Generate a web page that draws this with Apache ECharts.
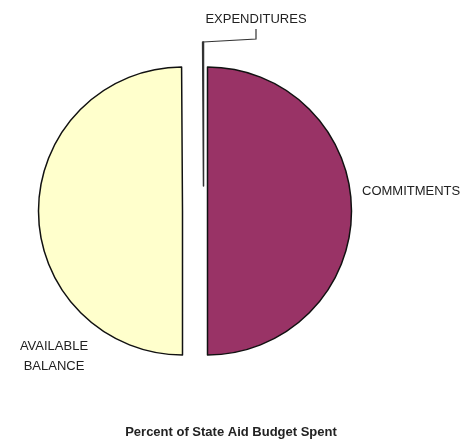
<!DOCTYPE html>
<html>
<head>
<meta charset="utf-8">
<script src="https://cdn.jsdelivr.net/npm/echarts@6/dist/echarts.min.js"></script>
<style>
  html, body { margin: 0; padding: 0; background: #fff; }
  #chart { width: 462px; height: 446px; }
</style>
</head>
<body>
<div id="chart"></div>
<script>
// Budget shares (percent of state aid budget)
const categories = ['COMMITMENTS', 'AVAILABLE\nBALANCE', 'EXPENDITURES'];
const shares = [50.0, 49.9, 0.1];
const sliceColors = ['#993366', '#FFFFCC', '#3a3a3a'];

// Exploded pie: each slice is drawn by its own series, pulled out from the
// common centre along its middle direction.
const pieCentre = [203.5, 211];
const pieRadius = 144;
const pullOut = [[4, 0], [-21, 0], [0, -25]];
const labelSpots = [
  { x: 362, y: 191, align: 'left' },
  { x: 54, y: 356, align: 'center' },
  { x: 256, y: 19, align: 'center' }
];

const FONT = '"Liberation Sans", Arial, Helvetica, sans-serif';

function sliceSeries(k) {
  return {
    type: 'pie',
    silent: true,
    center: [pieCentre[0] + pullOut[k][0], pieCentre[1] + pullOut[k][1]],
    radius: [0, pieRadius],
    startAngle: 90,
    clockwise: true,
    avoidLabelOverlap: false,
    emphasis: { disabled: true },
    label: {
      show: false,
      position: 'outside',
      fontFamily: FONT,
      fontSize: 13,
      lineHeight: 20,
      color: '#222'
    },
    labelLine: { show: false },
    labelLayout: function (p) {
      const s = labelSpots[p.dataIndex];
      return { x: s.x, y: s.y, align: s.align, verticalAlign: 'middle' };
    },
    data: categories.map((name, i) => {
      const own = i === k;
      const tiny = i === 2;
      return {
        name: name,
        value: shares[i],
        itemStyle: own
          ? { color: sliceColors[i], borderColor: tiny ? '#333' : '#111', borderWidth: 1.5 }
          : { opacity: 0 },
        // the small slice's caption sits above the pie with a bent leader
        label: own
          ? (tiny ? { show: true, lineHeight: 14, padding: [0, 70, 6, 70] } : { show: true })
          : { show: false },
        labelLine: own && tiny
          ? { show: true, length: 4, length2: 10, minTurnAngle: 60, lineStyle: { color: '#333', width: 1.2 } }
          : { show: false }
      };
    })
  };
}

const chart = echarts.init(document.getElementById('chart'), null, { renderer: 'canvas' });

chart.setOption({
  animation: false,
  backgroundColor: '#fff',
  title: {
    text: 'Percent of State Aid Budget Spent',
    left: 'center',
    top: 421,
    textStyle: { fontFamily: FONT, fontSize: 13, fontWeight: 'bold', color: '#222' }
  },
  series: [sliceSeries(0), sliceSeries(1), sliceSeries(2)]
});
</script>
</body>
</html>
